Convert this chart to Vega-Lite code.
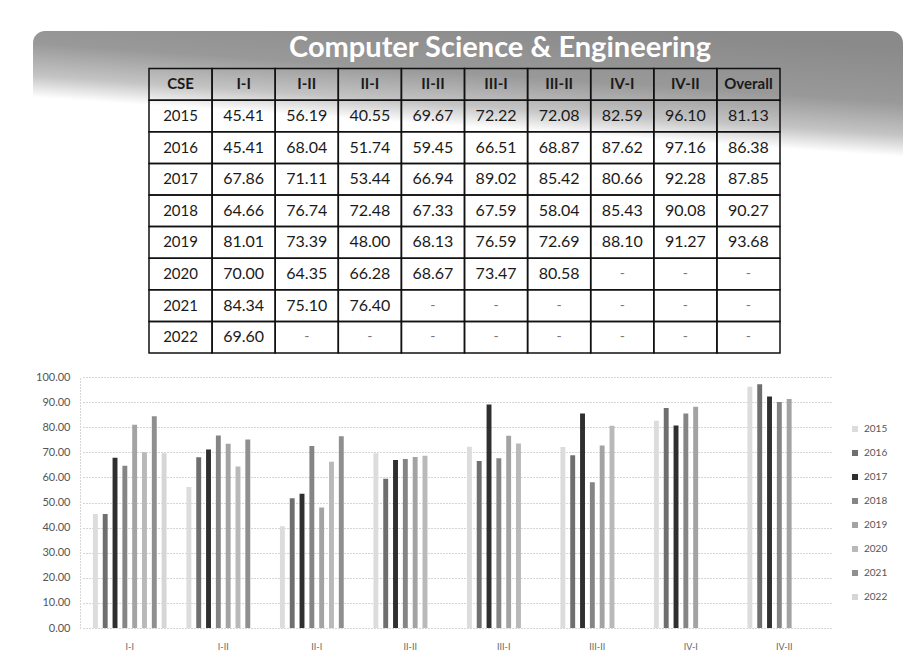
{
  "$schema": "https://vega.github.io/schema/vega-lite/v6.json",
  "padding": {"left": 33, "top": 30, "right": 0, "bottom": 0},
  "background": "white",
  "spacing": 17,
  "resolve": {"legend": {"color": "independent"}},
  "config": {
    "view": {"stroke": null},
    "font": "Lato",
    "axis": {"labelFont": "Lato"},
    "legend": {"labelFont": "Lato"}
  },
  "datasets": {
    "scores": [
      {"year": "2015", "sem": "I-I", "value": 45.41}, {"year": "2015", "sem": "I-II", "value": 56.19}, {"year": "2015", "sem": "II-I", "value": 40.55}, {"year": "2015", "sem": "II-II", "value": 69.67}, {"year": "2015", "sem": "III-I", "value": 72.22}, {"year": "2015", "sem": "III-II", "value": 72.08}, {"year": "2015", "sem": "IV-I", "value": 82.59}, {"year": "2015", "sem": "IV-II", "value": 96.10}, {"year": "2015", "sem": "Overall", "value": 81.13},
      {"year": "2016", "sem": "I-I", "value": 45.41}, {"year": "2016", "sem": "I-II", "value": 68.04}, {"year": "2016", "sem": "II-I", "value": 51.74}, {"year": "2016", "sem": "II-II", "value": 59.45}, {"year": "2016", "sem": "III-I", "value": 66.51}, {"year": "2016", "sem": "III-II", "value": 68.87}, {"year": "2016", "sem": "IV-I", "value": 87.62}, {"year": "2016", "sem": "IV-II", "value": 97.16}, {"year": "2016", "sem": "Overall", "value": 86.38},
      {"year": "2017", "sem": "I-I", "value": 67.86}, {"year": "2017", "sem": "I-II", "value": 71.11}, {"year": "2017", "sem": "II-I", "value": 53.44}, {"year": "2017", "sem": "II-II", "value": 66.94}, {"year": "2017", "sem": "III-I", "value": 89.02}, {"year": "2017", "sem": "III-II", "value": 85.42}, {"year": "2017", "sem": "IV-I", "value": 80.66}, {"year": "2017", "sem": "IV-II", "value": 92.28}, {"year": "2017", "sem": "Overall", "value": 87.85},
      {"year": "2018", "sem": "I-I", "value": 64.66}, {"year": "2018", "sem": "I-II", "value": 76.74}, {"year": "2018", "sem": "II-I", "value": 72.48}, {"year": "2018", "sem": "II-II", "value": 67.33}, {"year": "2018", "sem": "III-I", "value": 67.59}, {"year": "2018", "sem": "III-II", "value": 58.04}, {"year": "2018", "sem": "IV-I", "value": 85.43}, {"year": "2018", "sem": "IV-II", "value": 90.08}, {"year": "2018", "sem": "Overall", "value": 90.27},
      {"year": "2019", "sem": "I-I", "value": 81.01}, {"year": "2019", "sem": "I-II", "value": 73.39}, {"year": "2019", "sem": "II-I", "value": 48.00}, {"year": "2019", "sem": "II-II", "value": 68.13}, {"year": "2019", "sem": "III-I", "value": 76.59}, {"year": "2019", "sem": "III-II", "value": 72.69}, {"year": "2019", "sem": "IV-I", "value": 88.10}, {"year": "2019", "sem": "IV-II", "value": 91.27}, {"year": "2019", "sem": "Overall", "value": 93.68},
      {"year": "2020", "sem": "I-I", "value": 70.00}, {"year": "2020", "sem": "I-II", "value": 64.35}, {"year": "2020", "sem": "II-I", "value": 66.28}, {"year": "2020", "sem": "II-II", "value": 68.67}, {"year": "2020", "sem": "III-I", "value": 73.47}, {"year": "2020", "sem": "III-II", "value": 80.58}, {"year": "2020", "sem": "IV-I", "value": null}, {"year": "2020", "sem": "IV-II", "value": null}, {"year": "2020", "sem": "Overall", "value": null},
      {"year": "2021", "sem": "I-I", "value": 84.34}, {"year": "2021", "sem": "I-II", "value": 75.10}, {"year": "2021", "sem": "II-I", "value": 76.40}, {"year": "2021", "sem": "II-II", "value": null}, {"year": "2021", "sem": "III-I", "value": null}, {"year": "2021", "sem": "III-II", "value": null}, {"year": "2021", "sem": "IV-I", "value": null}, {"year": "2021", "sem": "IV-II", "value": null}, {"year": "2021", "sem": "Overall", "value": null},
      {"year": "2022", "sem": "I-I", "value": 69.60}, {"year": "2022", "sem": "I-II", "value": null}, {"year": "2022", "sem": "II-I", "value": null}, {"year": "2022", "sem": "II-II", "value": null}, {"year": "2022", "sem": "III-I", "value": null}, {"year": "2022", "sem": "III-II", "value": null}, {"year": "2022", "sem": "IV-I", "value": null}, {"year": "2022", "sem": "IV-II", "value": null}, {"year": "2022", "sem": "Overall", "value": null}
    ],
    "headers": [
      {"col": "CSE"}, {"col": "I-I"}, {"col": "I-II"}, {"col": "II-I"}, {"col": "II-II"}, {"col": "III-I"}, {"col": "III-II"}, {"col": "IV-I"}, {"col": "IV-II"}, {"col": "Overall"}
    ],
    "banner": [{"title": "Computer Science & Engineering"}]
  },
  "vconcat": [
    {
      "width": 870,
      "height": 322,
      "layer": [
        {
          "data": {"name": "banner"},
          "mark": {
            "type": "rect",
            "cornerRadius": 12,
            "color": {
              "gradient": "linear",
              "x1": 0.7, "y1": 0, "x2": 0.395, "y2": 0.678,
              "stops": [
                {"offset": 0, "color": "#8a8a8a"},
                {"offset": 0.5, "color": "#999999"},
                {"offset": 0.8, "color": "#c4c4c4"},
                {"offset": 1, "color": "#ffffff"}
              ]
            }
          },
          "encoding": {
            "x": {"value": 0},
            "x2": {"value": "width"},
            "y": {"datum": "title", "type": "nominal", "bandPosition": -0.19, "axis": null,
                  "scale": {"domain": ["title", "CSE", "2015", "2016", "2017", "2018", "2019", "2020", "2021", "2022"], "paddingInner": 0, "paddingOuter": 0.095, "align": 1}},
            "y2": {"datum": "2016", "bandPosition": 1}
          }
        },
        {
          "data": {"name": "scores"},
          "mark": {"type": "rect", "filled": false, "color": "#111111", "strokeWidth": 1.5},
          "encoding": {
            "x": {"field": "sem", "type": "nominal", "axis": null,
                  "scale": {"domain": ["CSE", "I-I", "I-II", "II-I", "II-II", "III-I", "III-II", "IV-I", "IV-II", "Overall"], "paddingInner": 0, "paddingOuter": 0, "range": [116, 747]}},
            "y": {"field": "year", "type": "nominal", "axis": null,
                  "scale": {"domain": ["title", "CSE", "2015", "2016", "2017", "2018", "2019", "2020", "2021", "2022"], "paddingInner": 0, "paddingOuter": 0.095, "align": 1}}
          }
        },
        {
          "data": {"name": "headers"},
          "mark": {"type": "rect", "filled": false, "color": "#111111", "strokeWidth": 1.5},
          "encoding": {
            "x": {"field": "col", "type": "nominal", "axis": null},
            "y": {"datum": "CSE", "type": "nominal"}
          }
        },
        {
          "data": {"name": "scores"},
          "transform": [{"aggregate": [], "groupby": ["year"]}],
          "mark": {"type": "rect", "filled": false, "color": "#111111", "strokeWidth": 1.5},
          "encoding": {
            "x": {"datum": "CSE", "type": "nominal"},
            "y": {"field": "year", "type": "nominal"}
          }
        },
        {
          "data": {"name": "banner"},
          "mark": {"type": "text", "font": "Lato", "fontWeight": "bold", "fontSize": 29, "color": "#ffffff", "baseline": "alphabetic", "dy": 4, "dx": 32},
          "encoding": {
            "y": {"datum": "title", "type": "nominal"},
            "text": {"field": "title"}
          }
        },
        {
          "data": {"name": "headers"},
          "mark": {"type": "text", "font": "Lato", "fontWeight": "bold", "fontSize": 15, "color": "#1a1a1a", "baseline": "middle"},
          "encoding": {
            "x": {"field": "col", "type": "nominal"},
            "y": {"datum": "CSE", "type": "nominal"},
            "text": {"field": "col"}
          }
        },
        {
          "data": {"name": "scores"},
          "transform": [{"aggregate": [], "groupby": ["year"]}],
          "mark": {"type": "text", "font": "Lato", "fontSize": 15, "color": "#1a1a1a", "baseline": "middle"},
          "encoding": {
            "x": {"datum": "CSE", "type": "nominal"},
            "y": {"field": "year", "type": "nominal"},
            "text": {"field": "year"}
          }
        },
        {
          "data": {"name": "scores"},
          "transform": [{"filter": "datum.value != null"}],
          "mark": {"type": "text", "font": "Lato", "fontSize": 16, "color": "#1a1a1a", "baseline": "middle"},
          "encoding": {
            "x": {"field": "sem", "type": "nominal"},
            "y": {"field": "year", "type": "nominal"},
            "text": {"field": "value", "type": "quantitative", "format": ".2f"}
          }
        },
        {
          "data": {"name": "scores"},
          "transform": [{"filter": "datum.value == null"}],
          "mark": {"type": "text", "font": "Lato", "fontSize": 14, "color": "#777777", "baseline": "middle", "text": "-"},
          "encoding": {
            "x": {"field": "sem", "type": "nominal"},
            "y": {"field": "year", "type": "nominal"}
          }
        }
      ]
    },
    {
      "width": 795,
      "height": 251,
      "data": {"name": "scores"},
      "transform": [{"filter": "datum.value != null && datum.sem != 'Overall'"}],
      "mark": {"type": "bar"},
      "encoding": {
        "x": {
          "field": "sem", "type": "nominal",
          "scale": {"domain": ["I-I", "I-II", "II-I", "II-II", "III-I", "III-II", "IV-I", "IV-II"], "paddingInner": 0.16, "paddingOuter": 0.08, "range": [50, 798]},
          "axis": {"title": null, "labelAngle": 0, "ticks": false, "domain": false, "grid": false, "labelFontSize": 9, "labelColor": "#666666", "labelPadding": 14}
        },
        "xOffset": {
          "field": "year", "type": "nominal",
          "scale": {"domain": ["2015", "2016", "2017", "2018", "2019", "2020", "2021", "2022"], "paddingInner": 0.5, "paddingOuter": 0.25}
        },
        "y": {
          "field": "value", "type": "quantitative",
          "scale": {"domain": [0, 100]},
          "axis": {"title": null, "format": ".2f", "values": [0, 10, 20, 30, 40, 50, 60, 70, 80, 90, 100], "offset": -47, "labelFontSize": 11, "labelColor": "#555555", "labelPadding": 10, "ticks": false, "domain": true, "domainDash": [1, 2], "domainColor": "#aaaaaa", "gridDash": [1, 2], "gridColor": "#aaaaaa"}
        },
        "color": {
          "field": "year", "type": "nominal",
          "scale": {"domain": ["2015", "2016", "2017", "2018", "2019", "2020", "2021", "2022"], "range": ["#dcdcdc", "#6f6f6f", "#2f2f2f", "#858585", "#a3a3a3", "#b9b9b9", "#8f8f8f", "#d6d6d6"]},
          "legend": {"title": null, "orient": "none", "legendX": 817, "legendY": 47, "symbolType": "square", "symbolSize": 36, "labelFontSize": 10, "labelColor": "#555555", "rowPadding": 14, "symbolStrokeWidth": 0}
        }
      }
    }
  ]
}
